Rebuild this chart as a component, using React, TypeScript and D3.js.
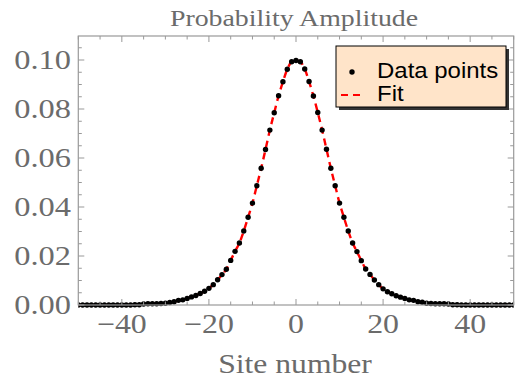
import React from 'react';
import * as d3 from 'd3';

const sites = d3.range(-50, 51);
// probability amplitude, site -50 ... 50
const amplitudes = [
  0.0000, 0.0000, 0.0000, 0.0000, 0.0000, 0.0000, 0.0000, 0.0000, 0.0000, 0.0000,
  0.0000, 0.0000, 0.0000, 0.0001, 0.0001, 0.0004, 0.0005, 0.0005, 0.0005, 0.0006,
  0.0007, 0.0010, 0.0013, 0.0019, 0.0021, 0.0027, 0.0033, 0.0039, 0.0047, 0.0056,
  0.0068, 0.0083, 0.0103, 0.0124, 0.0146, 0.0182, 0.0219, 0.0253, 0.0302, 0.0358,
  0.0416, 0.0487, 0.0558, 0.0635, 0.0714, 0.0785, 0.0854, 0.0911, 0.0962, 0.0993,
  0.0998,
  0.0993, 0.0963, 0.0912, 0.0853, 0.0786, 0.0714, 0.0636, 0.0558, 0.0487, 0.0416,
  0.0358, 0.0302, 0.0253, 0.0218, 0.0181, 0.0147, 0.0125, 0.0102, 0.0083, 0.0066,
  0.0054, 0.0046, 0.0038, 0.0032, 0.0027, 0.0021, 0.0019, 0.0013, 0.0011, 0.0007,
  0.0006, 0.0005, 0.0005, 0.0005, 0.0004, 0.0001, 0.0001, 0.0000, 0.0000, 0.0000,
  0.0000, 0.0000, 0.0000, 0.0000, 0.0000, 0.0000, 0.0000, 0.0000, 0.0000, 0.0000,
];
const xMajor = [-40, -20, 0, 20, 40];
const yMajor = [0, 0.02, 0.04, 0.06, 0.08, 0.1];
const legendItems = ['Data points', 'Fit'];

const W = 523;
const H = 378;
const frameColor = '#999999';
const labelColor = '#6b6b6b';
const serif = '"Liberation Serif", "DejaVu Serif", serif';
const sans = '"Liberation Sans", Arial, sans-serif';

const fmtX = (d: number) => (d < 0 ? `\u2212${Math.abs(d)}` : `${d}`);

// the reference text is a bit wider than the installed fonts, so stretch it
const Wide = ({ x, y, sx, anchor = 'start', children, ...rest }: any) => (
  <text transform={`translate(${x},${y}) scale(${sx},1)`} textAnchor={anchor} {...rest}>
    {children}
  </text>
);

const App = () => {
  const x = d3.scaleLinear().domain([-50, 50]).range([78.3, 513.7]);
  const y = d3.scaleLinear().domain([0, 0.1098]).range([305, 36]);
  const [x0, x1] = x.range();
  const [y0, y1] = y.range();

  const points = sites.map((s, i) => ({ s, v: amplitudes[i] }));
  const fitLine = d3
    .line<{ s: number; v: number }>()
    .x((d) => x(d.s))
    .y((d) => y(d.v))
    .curve(d3.curveCatmullRom);

  const xMinor = d3.range(-50, 51, 5).filter((d) => !xMajor.includes(d));
  const yMinor = d3.range(0, 0.1099, 0.005).filter(
    (d) => !yMajor.some((m) => Math.abs(m - d) < 1e-6),
  );

  const major = 6;
  const minor = 3.5;

  return (
    <svg
      width={W}
      height={H}
      style={{ position: 'absolute', left: 0, top: 0, background: '#fff' }}
    >
      <Wide x={294} y={26} sx={1.16} anchor="middle" fontFamily={serif} fontSize={24} fill={labelColor}>
        Probability Amplitude
      </Wide>

      <g clipPath="url(#plot)">
        <clipPath id="plot">
          <rect x={x0} y={y1 - 2} width={x1 - x0} height={y0 - y1 + 6} />
        </clipPath>
        <path
          d={fitLine(points) || ''}
          fill="none"
          stroke="#ff0000"
          strokeWidth={2.4}
          strokeDasharray="7,5"
        />
        {points.map((d) => (
          <circle key={d.s} cx={x(d.s)} cy={y(d.v)} r={2.7} fill="#000" />
        ))}
      </g>

      {/* frame with inward ticks on all sides */}
      <rect
        x={x0}
        y={y1}
        width={x1 - x0}
        height={y0 - y1}
        fill="none"
        stroke={frameColor}
        strokeWidth={1.2}
      />
      <g stroke={frameColor} strokeWidth={1}>
        {xMajor.map((t) => (
          <g key={`xM${t}`}>
            <line x1={x(t)} x2={x(t)} y1={y0} y2={y0 - major} />
            <line x1={x(t)} x2={x(t)} y1={y1} y2={y1 + major} />
          </g>
        ))}
        {xMinor.map((t) => (
          <g key={`xm${t}`}>
            <line x1={x(t)} x2={x(t)} y1={y0} y2={y0 - minor} />
            <line x1={x(t)} x2={x(t)} y1={y1} y2={y1 + minor} />
          </g>
        ))}
        {yMajor.map((t) => (
          <g key={`yM${t}`}>
            <line x1={x0} x2={x0 + major} y1={y(t)} y2={y(t)} />
            <line x1={x1} x2={x1 - major} y1={y(t)} y2={y(t)} />
          </g>
        ))}
        {yMinor.map((t) => (
          <g key={`ym${t}`}>
            <line x1={x0} x2={x0 + minor} y1={y(t)} y2={y(t)} />
            <line x1={x1} x2={x1 - minor} y1={y(t)} y2={y(t)} />
          </g>
        ))}
      </g>

      <g fontFamily={serif} fontSize={27} fill={labelColor}>
        {xMajor.map((t) => (
          <Wide key={`xl${t}`} x={x(t)} y={333} sx={1.18} anchor="middle">
            {fmtX(t)}
          </Wide>
        ))}
        {yMajor.map((t) => (
          <Wide key={`yl${t}`} x={71} y={y(t) + 9} sx={1.2} anchor="end">
            {t.toFixed(2)}
          </Wide>
        ))}
        <Wide x={295} y={373} sx={1.13} anchor="middle" fontSize={28}>
          Site number
        </Wide>
      </g>

      {/* legend */}
      <g>
        <rect x={339} y={49} width={170} height={61} fill="#333" />
        <rect x={336} y={46} width={170} height={61} fill="#ffe4c9" stroke="#000" strokeWidth={1} />
        <circle cx={352} cy={72} r={2.7} fill="#000" />
        <line x1={341} x2={362} y1={95} y2={95} stroke="#ff0000" strokeWidth={2} strokeDasharray="7,5" />
        {legendItems.map((t, i) => (
          <Wide key={t} x={377} y={78 + i * 23} sx={1.09} fontFamily={sans} fontSize={22} fill="#000">
            {t}
          </Wide>
        ))}
      </g>
    </svg>
  );
};

export default App;
